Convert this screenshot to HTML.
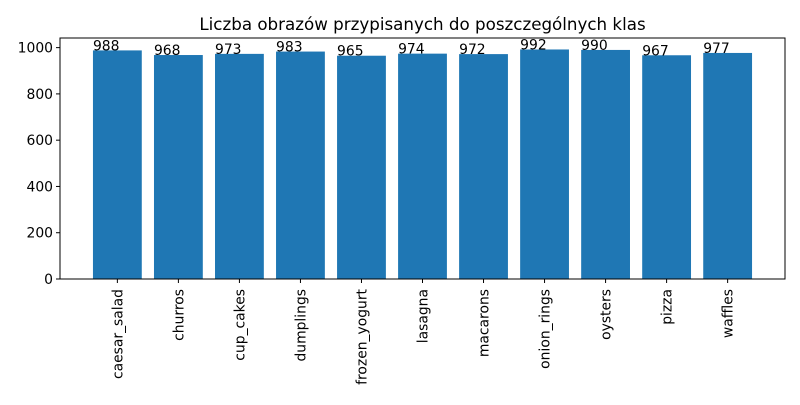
<!DOCTYPE html>
<html><head><meta charset="utf-8"><style>body{margin:0;background:#fff}svg{font-family:"DejaVu Sans","Liberation Sans",sans-serif}</style></head>
<body>
<svg id="c" width="800" height="400"></svg>
<script>
const categories=["caesar_salad","churros","cup_cakes","dumplings","frozen_yogurt","lasagna","macarons","onion_rings","oysters","pizza","waffles"];
const counts=[988,968,973,983,965,974,972,992,990,967,977];
const yTicks=[0,200,400,600,800,1000];
const NS="http://www.w3.org/2000/svg";
const svg=document.getElementById('c');
const L=60,R=785,T=38,B=279;
const FS=13.9;
const ymax=Math.max(...counts)*1.05;
const span=categories.length-1+0.8;
const xmin=-0.4-0.05*span, xmax=categories.length-1+0.4+0.05*span;
const xs=v=>L+(v-xmin)/(xmax-xmin)*(R-L);
const ys=v=>B-v/ymax*(B-T);
function el(t,a){const e=document.createElementNS(NS,t);for(const k in a)e.setAttribute(k,a[k]);svg.appendChild(e);return e;}
const title=el('text',{x:(L+R)/2,y:30,'text-anchor':'middle','font-size':16.7,fill:'#000'});
title.textContent='Liczba obrazów przypisanych do poszczególnych klas';


categories.forEach((c,i)=>{
  const r=el('rect',{x:xs(i-0.4),y:ys(counts[i]),width:xs(i+0.4)-xs(i-0.4),height:B-ys(counts[i]),fill:'#1f77b4'});
  
  
  const t=el('text',{x:xs(i-0.4),y:ys(counts[i]),'font-size':FS,fill:'#000'});
  t.textContent=counts[i];
  
  
  el('line',{x1:xs(i),x2:xs(i),y1:B,y2:B+4,stroke:'#000'});
  const xl=el('text',{x:0,y:0,transform:`translate(${xs(i)+5},${B+10}) rotate(-90)`,'text-anchor':'end','font-size':FS,fill:'#000'});
  xl.textContent=c;
  
  
});
yTicks.forEach(v=>{
  el('line',{x1:L-4,x2:L,y1:ys(v),y2:ys(v),stroke:'#000'});
  const t=el('text',{x:L-7,y:ys(v)+5,'text-anchor':'end','font-size':FS,fill:'#000'});
  t.textContent=v;
  
  
});
const f=el('rect',{x:L,y:T,width:R-L,height:B-T,fill:'none',stroke:'#000','stroke-width':1});


</script>
</body></html>
